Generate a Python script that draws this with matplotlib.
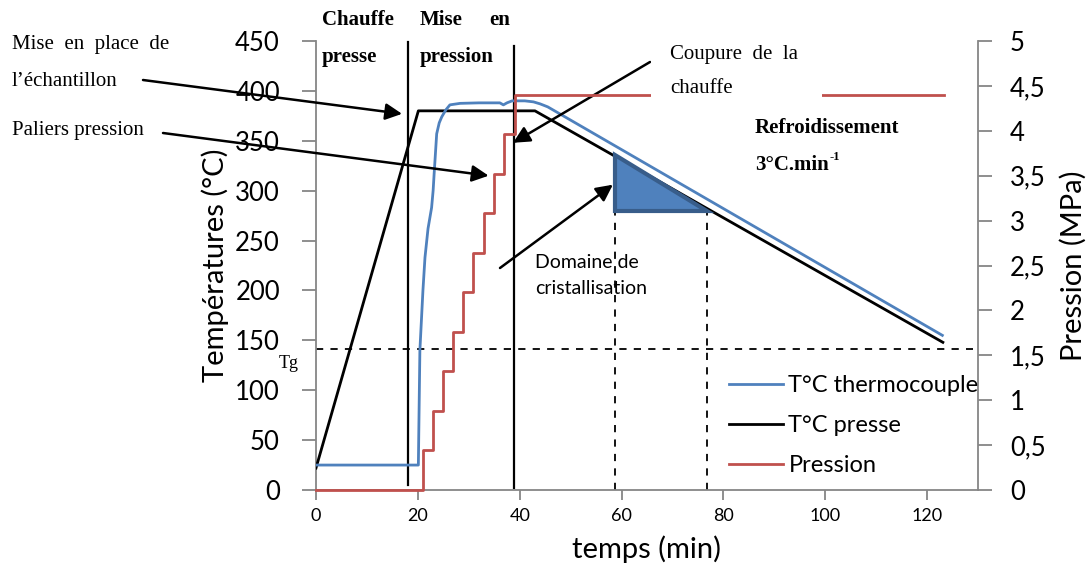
import matplotlib
matplotlib.use('Agg')

import matplotlib.pyplot as plt
from matplotlib.patches import Polygon, Rectangle
from matplotlib.ticker import FuncFormatter

plt.rcParams['font.family'] = ['Lato', 'DejaVu Sans']

# données
t_thermo = [0, 20.1, 20.4, 21.0, 21.4, 22.0, 22.7, 23.0, 23.2, 23.7, 24.2, 24.7,
            25.5, 26.3, 28.3, 32.0, 36.1, 36.8, 37.5, 38.5, 39.4, 41.0, 42.7,
            44.0, 45.5, 123.0]
T_thermo = [25, 25, 140, 200, 233, 262, 283, 300, 317, 357, 368, 374,
            381, 386, 387.5, 388, 388, 386, 388, 390, 390, 390, 389,
            387, 384, 155]

t_presse = [0, 20.1, 43.0, 123.1]
T_presse = [22, 380, 380, 148]

t_pression = [0, 21.0, 23.05, 25.0, 27.0, 28.9, 30.9, 32.9, 35.0, 36.9, 39.1, 123.4]
P_pression = [0, 0.44, 0.88, 1.32, 1.76, 2.20, 2.64, 3.08, 3.52, 3.96, 4.40, 4.40]

Tg = 141
phases = [18.0, 38.8]
cristal_t = [58.7, 76.8]
cristal_T = [336, 280]

W, H = 1091, 567
gris = '#868686'
bleu = '#4f81bd'
rouge = '#c0504d'
serif = 'Liberation Serif'


def px(x, y):
    return (x / W, 1 - y / H)


fig = plt.figure(figsize=(W / 100, H / 100), dpi=100)
ax = fig.add_axes([316 / W, 1 - 490 / H, (978 - 316) / W, (490 - 41) / H])
ax2 = ax.twinx()

l1, = ax.plot(t_thermo, T_thermo, color=bleu, lw=2, label='T°C thermocouple', zorder=4)
l2, = ax.plot(t_presse, T_presse, color='black', lw=2, label='T°C presse', zorder=3)
l3, = ax2.plot(t_pression, P_pression, color=rouge, lw=2, drawstyle='steps-post',
               label='Pression', clip_on=False, zorder=4)

# Tg et phases
ax.plot([0, 129], [Tg, Tg], color='black', lw=1.3, ls=(0, (4, 4)))
ax.plot([phases[0], phases[0]], [5, 449], color='black', lw=1.6, clip_on=False)
ax.plot([phases[1], phases[1]], [2, 445], color='black', lw=1.6, clip_on=False)

# domaine de cristallisation
for t in cristal_t:
    ax.plot([t, t], [0, cristal_T[1]], color='black', lw=1.3, ls=(0, (4, 4)))
tri = Polygon([(cristal_t[0], cristal_T[0]), (cristal_t[0], cristal_T[1]),
               (cristal_t[1], cristal_T[1])], closed=True,
              facecolor='#4f81bd', edgecolor='#385d8a', lw=3, zorder=5)
ax.add_patch(tri)

# axes
ax.set_xlim(0, 130)
ax.set_ylim(0, 450)
ax2.set_ylim(0, 5)
ax.set_xticks(range(0, 121, 20))
ax.set_yticks(range(0, 451, 50))
ax2.set_yticks([i * 0.5 for i in range(11)])
ax2.yaxis.set_major_formatter(FuncFormatter(lambda v, p: ('%g' % v).replace('.', ',')))

for a in (ax, ax2):
    a.spines['top'].set_visible(False)
    for s in a.spines.values():
        s.set_color(gris)
        s.set_linewidth(1.3)
ax.spines['right'].set_visible(False)
ax2.spines['left'].set_visible(False)
ax2.spines['bottom'].set_visible(False)

ax.tick_params(axis='y', length=10, width=1.3, color=gris, pad=16, labelsize=18.5)
ax.tick_params(axis='x', length=7, width=1.3, color=gris, pad=6, labelsize=13)
ax2.tick_params(axis='y', length=10, width=1.3, color=gris, pad=13, labelsize=18.5)

ax.set_ylabel('Températures (°C)', fontsize=21)
ax.yaxis.set_label_coords(-0.131, 0.5)
ax.set_xlabel('temps (min)', fontsize=21)
ax.xaxis.set_label_coords(0.5, -0.1)
ax2.set_ylabel('Pression (MPa)', fontsize=21)
ax2.yaxis.set_label_coords(1.124, 0.5)

ax2.legend(handles=[l1, l2, l3], loc='upper left', bbox_to_anchor=px(729, 375),
           bbox_transform=fig.transFigure, frameon=False, fontsize=17,
           handlelength=2.3, handletextpad=0.22, labelspacing=0.8,
           borderpad=0, borderaxespad=0)

# boîte blanche derrière "Coupure de la chauffe"
fig.add_artist(Rectangle(px(651, 105), (822 - 651) / W, 70 / H,
                         transform=fig.transFigure, facecolor='white',
                         edgecolor='none', zorder=3))

# textes
def txt(x, y, s, **kw):
    kw.setdefault('family', serif)
    kw.setdefault('fontsize', 15)
    fig.text(*px(x, y), s, va='center', ha=kw.pop('ha', 'left'), **kw)


txt(12, 45, 'Mise  en  place  de')
txt(12, 82, 'l’échantillon')
txt(12, 130, 'Paliers pression')
txt(322, 20, 'Chauffe', weight='bold')
txt(322, 57, 'presse', weight='bold')
txt(420, 20, 'Mise', weight='bold')
txt(510, 20, 'en', weight='bold', ha='right')
txt(420, 57, 'pression', weight='bold')
txt(670, 54, 'Coupure  de  la')
txt(670, 89, 'chauffe')
txt(755, 128, 'Refroidissement', weight='bold')
txt(755, 165, '3°C.min', weight='bold')
txt(830, 157, '-1', weight='bold', fontsize=9)
txt(279, 363, 'Tg', fontsize=13)
txt(535, 262, 'Domaine de', family='Lato', fontsize=14)
txt(535, 288, 'cristallisation', family='Lato', fontsize=14)

# flèches
fleches = [((143, 80), (16.9, 377)),
           ((163, 133), (33.9, 315)),
           ((650, 62), (38.7, 348)),
           ((500, 268), (58.3, 306))]
for (x0, y0), tip in fleches:
    ax2.annotate('', xy=tip, xycoords=ax.transData,
                 xytext=(x0, H - y0), textcoords='figure pixels',
                 arrowprops=dict(arrowstyle='-|>', color='black', lw=1.8,
                                 mutation_scale=25, shrinkA=0, shrinkB=0),
                 annotation_clip=False)

plt.savefig('out.png', dpi=100)
